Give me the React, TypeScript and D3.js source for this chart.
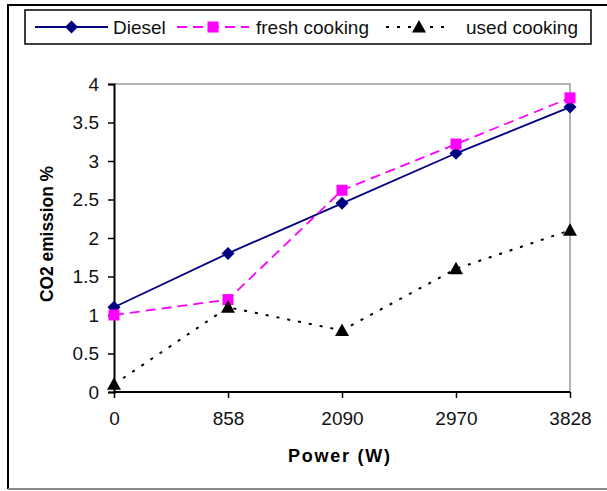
import { useEffect, useRef } from 'react';
import * as d3 from 'd3';

const categories = ['0', '858', '2090', '2970', '3828'];
const diesel = [1.1, 1.8, 2.45, 3.1, 3.7];
const freshCooking = [1.0, 1.2, 2.62, 3.22, 3.82];
const usedCooking = [0.1, 1.1, 0.8, 1.6, 2.1];
const yTicks = [0, 0.5, 1, 1.5, 2, 2.5, 3, 3.5, 4];

const W = 607;
const H = 491;

export default function App() {
  const svgRef = useRef<SVGSVGElement>(null);

  useEffect(() => {
    if (!svgRef.current) return;
    const svg = d3.select(svgRef.current);
    svg.selectAll('*').remove();

    const font = 'Arial, "Liberation Sans", sans-serif';
    const left = 114, right = 570, top = 84, bottom = 392;

    // outer frame (right side runs off the picture)
    svg.append('rect').attr('width', W).attr('height', H).attr('fill', 'white');
    svg.append('path')
      .attr('d', `M${W + 5},5H8V489`)
      .attr('fill', 'none').attr('stroke', 'black').attr('stroke-width', 2);
    svg.append('line')
      .attr('x1', 8).attr('x2', W).attr('y1', 489).attr('y2', 489)
      .attr('stroke', '#888').attr('stroke-width', 2);

    const x = d3.scalePoint<string>().domain(categories).range([left, right]);
    const y = d3.scaleLinear().domain([0, 4]).range([bottom, top]);

    // plot area border (top/right gray)
    svg.append('path')
      .attr('d', `M${left},${top}H${right}V${bottom}`)
      .attr('fill', 'none').attr('stroke', '#999').attr('stroke-width', 1.5);

    // y axis
    const yAxis = svg.append('g')
      .attr('transform', `translate(${left},0)`)
      .call(d3.axisLeft(y).tickValues(yTicks).tickSize(6).tickPadding(9).tickFormat(d => `${d}`));
    yAxis.select('.domain').attr('stroke', 'black').attr('stroke-width', 2);
    yAxis.selectAll('line').attr('stroke-width', 1.5);
    yAxis.selectAll('text').attr('font-family', font).attr('font-size', 19).attr('fill', '#111');

    // x axis
    const xAxis = svg.append('g')
      .attr('transform', `translate(0,${bottom})`)
      .call(d3.axisBottom(x).tickSize(6).tickPadding(14).tickSizeOuter(0));
    xAxis.select('.domain').attr('stroke', 'black').attr('stroke-width', 2).attr('d', `M${left},0H${right}`);
    xAxis.selectAll('line').attr('stroke-width', 1.5);
    xAxis.selectAll('text').attr('font-family', font).attr('font-size', 19).attr('fill', '#111');

    // axis titles
    svg.append('text')
      .attr('x', 288).attr('y', 462)
      .attr('textLength', 102).attr('lengthAdjust', 'spacing')
      .attr('font-family', font).attr('font-size', 18).attr('font-weight', 'bold')
      .text('Power (W)');

    svg.append('text')
      .attr('transform', `translate(53,${234 + 68}) rotate(-90)`)
      .attr('textLength', 136).attr('lengthAdjust', 'spacingAndGlyphs')
      .attr('font-family', font).attr('font-size', 18).attr('font-weight', 'bold')
      .text('CO2 emission %');

    const series = [
      { name: 'Diesel', values: diesel, color: '#000080', dash: null as string | null, marker: 'diamond' },
      { name: 'fresh cooking', values: freshCooking, color: '#FF00FF', dash: '10,6', marker: 'square' },
      { name: 'used cooking', values: usedCooking, color: 'black', dash: '3,8', marker: 'triangle' },
    ];

    const line = d3.line<number>()
      .x((_, i) => x(categories[i])!)
      .y(d => y(d));

    const drawMarker = (g: d3.Selection<SVGGElement, unknown, null, undefined>, type: string, cx: number, cy: number, color: string) => {
      if (type === 'diamond') {
        g.append('path').attr('d', `M${cx},${cy - 6.5}L${cx + 6.5},${cy}L${cx},${cy + 6.5}L${cx - 6.5},${cy}Z`).attr('fill', color);
      } else if (type === 'square') {
        g.append('rect').attr('x', cx - 5.5).attr('y', cy - 5.5).attr('width', 11).attr('height', 11).attr('fill', color);
      } else {
        g.append('path').attr('d', `M${cx},${cy - 7}L${cx + 7},${cy + 5.5}L${cx - 7},${cy + 5.5}Z`).attr('fill', color);
      }
    };

    series.forEach(s => {
      const g = svg.append('g');
      g.append('path')
        .attr('d', line(s.values))
        .attr('fill', 'none')
        .attr('stroke', s.color)
        .attr('stroke-width', s.marker === 'triangle' ? 2 : 1.8)
        .attr('stroke-dasharray', s.dash);
      s.values.forEach((v, i) => drawMarker(g, s.marker, x(categories[i])!, y(v), s.color));
    });

    // legend
    const lg = svg.append('g');
    lg.append('rect')
      .attr('x', 25).attr('y', 10).attr('width', 566).attr('height', 34)
      .attr('fill', 'white').attr('stroke', 'black').attr('stroke-width', 1.5);
    const items = [
      { x0: 35, x1: 108, tx: 113 },
      { x0: 177, x1: 249, tx: 256 },
      { x0: 386, x1: 452, tx: 466 },
    ];
    series.forEach((s, i) => {
      const it = items[i];
      const ly = 27;
      const g = lg.append('g');
      g.append('line')
        .attr('x1', it.x0).attr('x2', it.x1).attr('y1', ly).attr('y2', ly)
        .attr('stroke', s.color).attr('stroke-width', s.marker === 'triangle' ? 2 : 1.8)
        .attr('stroke-dasharray', s.dash);
      drawMarker(g, s.marker, (it.x0 + it.x1) / 2, ly, s.color);
      lg.append('text')
        .attr('x', it.tx).attr('y', ly + 7)
        .attr('font-family', font).attr('font-size', 19).attr('fill', '#111')
        .text(s.name);
    });
  }, []);

  return <svg ref={svgRef} width={W} height={H} style={{ display: 'block', position: 'absolute', left: 0, top: 0 }} />;
}
